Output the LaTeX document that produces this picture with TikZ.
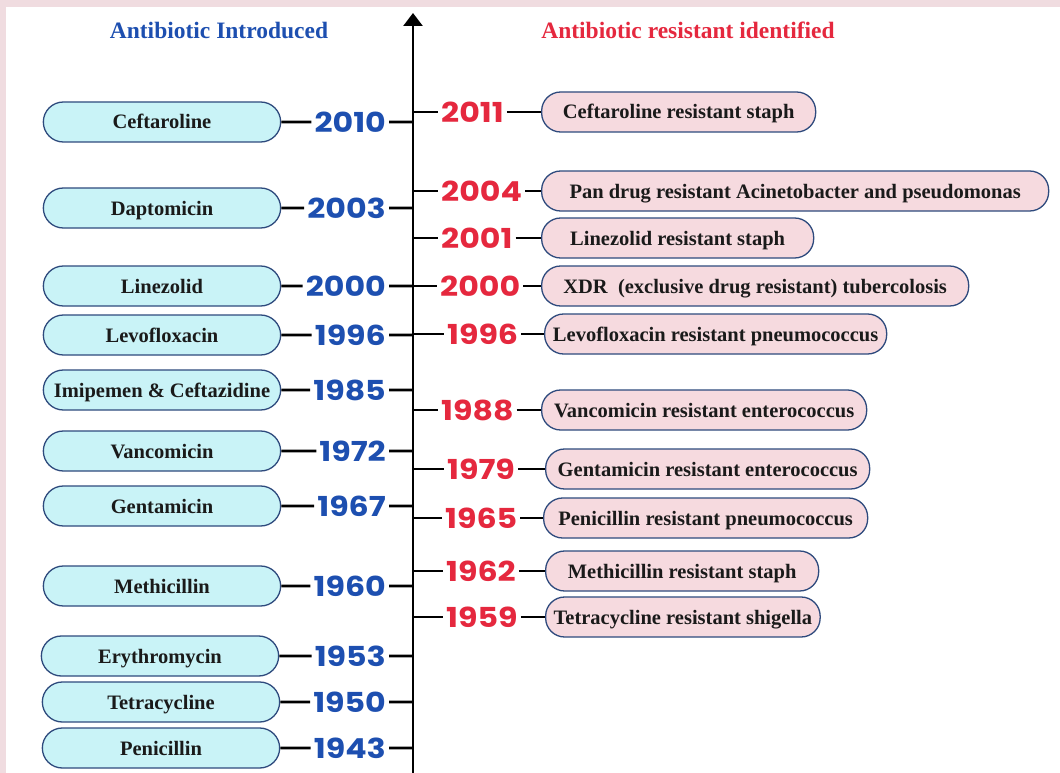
\documentclass[tikz,border=0pt]{standalone}
\usepackage{fontspec}
\setmainfont{Liberation Serif}
\newfontfamily\yearfont{Poppins}[FakeStretch=1.15]
\usetikzlibrary{arrows.meta,shapes.misc}
\definecolor{frame}{HTML}{F0DCE0}
\definecolor{navy}{HTML}{2E4A7D}
\definecolor{introblue}{HTML}{1D4FB0}
\definecolor{resred}{HTML}{E5283E}
\definecolor{drugfill}{HTML}{C9F3F7}
\definecolor{resfill}{HTML}{F6DADF}
\definecolor{ink}{HTML}{1A1A1A}

\tikzset{
  drug/.style={rounded rectangle,draw=navy,line width=1.3pt,fill=drugfill,
    minimum width=244pt,minimum height=40pt,text=ink,
    text height=14pt,text depth=0pt,
    font=\fontsize{20.5}{22}\selectfont\bfseries},
  resist/.style={rectangle,rounded corners=19pt,draw=navy,line width=1.3pt,
    fill=resfill,minimum height=40pt,inner xsep=8pt,anchor=west,text=ink,
    text height=14pt,text depth=0pt,
    font=\fontsize{20.5}{22}\selectfont\bfseries},
  yrin/.style={text=introblue,inner sep=3pt,anchor=east,
    font=\yearfont\bfseries\fontsize{27.5}{28}\selectfont},
  yrres/.style={text=resred,inner sep=3pt,anchor=west,
    font=\yearfont\bfseries\fontsize{27.5}{28}\selectfont},
  tick/.style={line width=2.6pt,draw=black}
}

\begin{document}
\begin{tikzpicture}[x=1pt,y=-1pt]
  \useasboundingbox (0,0) rectangle (1060,773);
  \fill[frame] (0,0) rectangle (1060,773);
  \fill[white] (6,7) rectangle (1060,773);

  \node[font=\fontsize{23.5}{25}\selectfont\bfseries,text=introblue] (titlein)
    at (219,30) {Antibiotic Introduced};
  \node[font=\fontsize{23.5}{25}\selectfont\bfseries,text=resred] (titleres)
    at (688,30) {Antibiotic resistant identified};

  % time axis
  \coordinate (axbot) at (413,773);
  \coordinate (axtop) at (413,13);
  \draw[line width=2.6pt,-{Triangle[length=13pt,width=19pt]}]
    (axbot) -- (axtop);

  % antibiotics introduced
  \node[drug] (dCef) at (162,122) {Ceftaroline};
  \node[yrin] (y2010) at (389,122) {2010};
  \coordinate (a2010) at (413,122);
  \node[drug] (dDap) at (162,208) {Daptomicin};
  \node[yrin] (y2003) at (389,208) {2003};
  \coordinate (a2003) at (413,208);
  \node[drug] (dLin) at (162,286) {Linezolid};
  \node[yrin] (y2000) at (389,286) {2000};
  \coordinate (a2000) at (413,286);
  \node[drug] (dLev) at (162,335) {Levofloxacin};
  \node[yrin] (y1996) at (389,335) {1996};
  \coordinate (a1996) at (413,335);
  \node[drug] (dImi) at (162,390) {Imipemen \& Ceftazidine};
  \node[yrin] (y1985) at (389,390) {1985};
  \coordinate (a1985) at (413,390);
  \node[drug] (dVan) at (162,451) {Vancomicin};
  \node[yrin] (y1972) at (389,451) {1972};
  \coordinate (a1972) at (413,451);
  \node[drug] (dGen) at (162,506) {Gentamicin};
  \node[yrin] (y1967) at (389,506) {1967};
  \coordinate (a1967) at (413,506);
  \node[drug] (dMet) at (162,586) {Methicillin};
  \node[yrin] (y1960) at (389,586) {1960};
  \coordinate (a1960) at (413,586);
  \node[drug] (dEry) at (160,656) {Erythromycin};
  \node[yrin] (y1953) at (389,656) {1953};
  \coordinate (a1953) at (413,656);
  \node[drug] (dTet) at (161,702) {Tetracycline};
  \node[yrin] (y1950) at (389,702) {1950};
  \coordinate (a1950) at (413,702);
  \node[drug] (dPen) at (161,748) {Penicillin};
  \node[yrin] (y1943) at (389,748) {1943};
  \coordinate (a1943) at (413,748);

  \draw[tick] (dCef) -- (y2010) -- (a2010);
  \draw[tick] (dDap) -- (y2003) -- (a2003);
  \draw[tick] (dLin) -- (y2000) -- (a2000);
  \draw[tick] (dLev) -- (y1996) -- (a1996);
  \draw[tick] (dImi) -- (y1985) -- (a1985);
  \draw[tick] (dVan) -- (y1972) -- (a1972);
  \draw[tick] (dGen) -- (y1967) -- (a1967);
  \draw[tick] (dMet) -- (y1960) -- (a1960);
  \draw[tick] (dEry) -- (y1953) -- (a1953);
  \draw[tick] (dTet) -- (y1950) -- (a1950);
  \draw[tick] (dPen) -- (y1943) -- (a1943);

  % resistance identified
  \coordinate (b2011) at (413,112);
  \node[yrres] (r2011) at (438,112) {2011};
  \node[resist,minimum width=274pt] (sCef) at (541,112)
    {Ceftaroline resistant staph};
  \coordinate (b2004) at (413,191);
  \node[yrres] (r2004) at (438,191) {2004};
  \node[resist,minimum width=507pt] (sPan) at (541,191)
    {Pan drug resistant Acinetobacter and pseudomonas};
  \coordinate (b2001) at (413,238);
  \node[yrres] (r2001) at (438,238) {2001};
  \node[resist,minimum width=272pt] (sLin) at (541,238)
    {Linezolid resistant staph};
  \coordinate (b2000) at (413,286);
  \node[yrres] (r2000) at (437,286) {2000};
  \node[resist,minimum width=427pt] (sXdr) at (541,286)
    {XDR\ \ (exclusive drug resistant) tubercolosis};
  \coordinate (b1996) at (413,334);
  \node[yrres] (r1996) at (444,334) {1996};
  \node[resist,minimum width=342pt] (sLev) at (544,334)
    {Levofloxacin resistant pneumococcus};
  \coordinate (b1988) at (413,410);
  \node[yrres] (r1988) at (438,410) {1988};
  \node[resist,minimum width=325pt] (sVan) at (541,410)
    {Vancomicin resistant enterococcus};
  \coordinate (b1979) at (413,469);
  \node[yrres] (r1979) at (444,469) {1979};
  \node[resist,minimum width=324pt] (sGen) at (545,469)
    {Gentamicin resistant enterococcus};
  \coordinate (b1965) at (413,518);
  \node[yrres] (r1965) at (442,518) {1965};
  \node[resist,minimum width=324pt] (sPen) at (543,518)
    {Penicillin resistant pneumococcus};
  \coordinate (b1962) at (413,571);
  \node[yrres] (r1962) at (443,571) {1962};
  \node[resist,minimum width=273pt] (sMet) at (545,571)
    {Methicillin resistant staph};
  \coordinate (b1959) at (413,617);
  \node[yrres] (r1959) at (443,617) {1959};
  \node[resist,minimum width=272pt] (sTet) at (545,617)
    {Tetracycline resistant shigella};

  \draw[tick] (b2011) -- (r2011) -- (sCef);
  \draw[tick] (b2004) -- (r2004) -- (sPan);
  \draw[tick] (b2001) -- (r2001) -- (sLin);
  \draw[tick] (b2000) -- (r2000) -- (sXdr);
  \draw[tick] (b1996) -- (r1996) -- (sLev);
  \draw[tick] (b1988) -- (r1988) -- (sVan);
  \draw[tick] (b1979) -- (r1979) -- (sGen);
  \draw[tick] (b1965) -- (r1965) -- (sPen);
  \draw[tick] (b1962) -- (r1962) -- (sMet);
  \draw[tick] (b1959) -- (r1959) -- (sTet);
\end{tikzpicture}
\end{document}
